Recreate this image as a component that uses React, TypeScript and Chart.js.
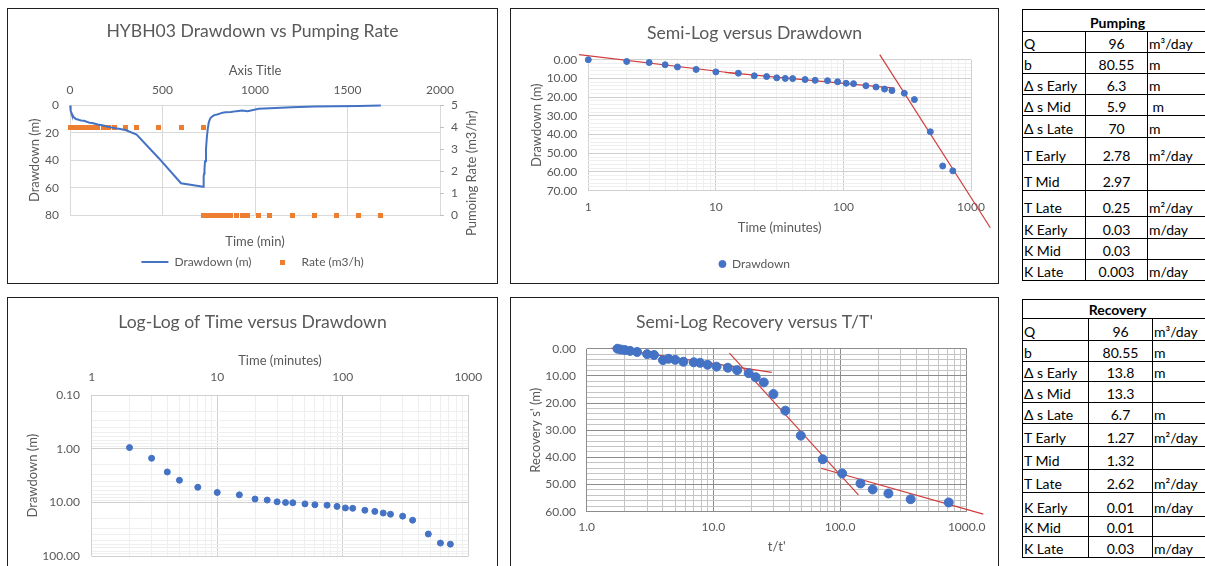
import React, { useEffect, useRef } from "react";
import { Chart, registerables } from "chart.js";

Chart.register(...registerables);

const FONT = "Lato, 'Liberation Sans', sans-serif";
const TXT = "#595959";
const BLUE = "#4472C4";
const ORANGE = "#ED7D31";
const RED = "#D23C3C";

Chart.defaults.font.family = FONT;
Chart.defaults.color = TXT;

// ---------- data ----------
const pumpTime = [1, 2, 3, 4, 5, 7, 10, 15, 20, 25, 30, 35, 40, 50, 60, 75, 90, 105, 120, 150, 180, 210, 240, 300, 360, 480, 600, 720];
const pumpDrawdown = [0, 0.95, 1.5, 2.7, 3.85, 5.2, 6.5, 7.2, 8.6, 9.0, 9.7, 10.0, 10.1, 10.6, 11.0, 11.2, 11.8, 12.6, 12.8, 13.9, 14.6, 15.7, 16.5, 17.9, 21.3, 38.5, 56.8, 59.4];
const pumpRate = 4;

const recoveryTime = [1, 2, 3, 4, 5, 7, 10, 15, 20, 25, 30, 35, 40, 50, 60, 75, 90, 105, 120, 150, 180, 210, 240, 300, 360, 480, 600, 720, 840, 960];
const recoveryRatio = [721, 361, 241, 181, 145, 103.9, 73, 49, 37, 29.8, 25, 21.6, 19, 15.4, 13, 10.6, 9, 7.86, 7, 5.8, 5, 4.43, 4, 3.4, 3, 2.5, 2.2, 2, 1.86, 1.75];
const recoveryResidual = [56.6, 55.4, 53.3, 51.8, 49.6, 45.9, 40.7, 32.0, 22.8, 16.7, 12.4, 10.5, 9.0, 7.9, 7.0, 6.6, 5.9, 5.2, 5.0, 4.8, 4.1, 3.7, 4.2, 2.3, 2.0, 1.2, 0.8, 0.5, 0.3, 0.0];
const recoveryRate = 0;

// straight-line fits drawn on the semi-log plots
const semiFitEarlyTime = [0.845, 15];
const semiFitEarlyDrawdown = [-2.7, 7.5];
const semiFitMidTime = [11.8, 252];
const semiFitMidDrawdown = [6.8, 15.2];
const semiFitLateTime = [192.6, 1417];
const semiFitLateDrawdown = [-2.7, 89.8];

const recFitEarlyRatio = [1.57, 28.9];
const recFitEarlyResidual = [-0.25, 8.7];
const recFitMidRatio = [13.4, 139.6];
const recFitMidResidual = [1.6, 53.8];
const recFitLateRatio = [70.8, 1352];
const recFitLateResidual = [44, 60.9];

// tables
const paramLabels = ["Q", "b", "Δ s Early", "Δ s Mid", "Δ s Late", "T Early", "T Mid", "T Late", "K Early", "K Mid", "K Late"];
const pumpingValues = ["96", "80.55", "6.3", "5.9", "70", "2.78", "2.97", "0.25", "0.03", "0.03", "0.003"];
const pumpingUnits = ["m³/day", "m", "m", "\u00a0m", "m", "m²/day", "", "m²/day", "m/day", "", "m/day"];
const recoveryValues = ["96", "80.55", "13.8", "13.3", "6.7", "1.27", "1.32", "2.62", "0.01", "0.01", "0.03"];
const recoveryUnits = ["m³/day", "m", "m", "", "m", "m²/day", "", "m²/day", "m/day", "", "m/day"];

// ---------- helpers ----------
const pts = (xs: number[], ys: number[]) => xs.map((x, i) => ({ x, y: ys[i] }));

const isDecade = (v: number) => Math.abs(Math.log10(v) - Math.round(Math.log10(v))) < 1e-9;

function logTickValues(lo: number, hi: number) {
  const out: number[] = [];
  for (let e = lo; e < hi; e++) for (let m = 1; m < 10; m++) out.push(+(m * Math.pow(10, e)).toPrecision(3));
  out.push(+Math.pow(10, hi).toPrecision(3));
  return out;
}

const setLogTicks = (lo: number, hi: number) => (axis: any) => {
  axis.ticks = logTickValues(lo, hi).map((v) => ({ value: v, major: isDecade(v) }));
};

const fitLine = (xs: number[], ys: number[]) => ({
  data: pts(xs, ys),
  showLine: true,
  borderColor: RED,
  backgroundColor: RED,
  borderWidth: 1.2,
  pointRadius: 0,
  pointHoverRadius: 0,
  clip: false as any,
});

function ChartPanel({ left, top, width, height, make }: any) {
  const ref = useRef<HTMLCanvasElement>(null);
  useEffect(() => {
    const chart = new Chart(ref.current as HTMLCanvasElement, make());
    return () => chart.destroy();
  }, []);
  return (
    <div
      style={{
        position: "absolute",
        left,
        top,
        width,
        height,
        boxSizing: "border-box",
        border: "1px solid #1f1f1f",
        background: "#fff",
      }}
    >
      <canvas ref={ref} width={width - 2} height={height - 2} style={{ display: "block", width: width - 2, height: height - 2 }} />
    </div>
  );
}

const TITLE_SIZE = 17.6;
const titleOpts = (text: string, padTop: number, padBottom: number) => ({
  display: true,
  text,
  font: { size: TITLE_SIZE, weight: "normal" as any, family: FONT },
  color: TXT,
  padding: { top: padTop, bottom: padBottom },
});

const axisTitle = (text: string, pad: any) => ({
  display: true,
  text,
  font: { size: 13, family: FONT },
  color: TXT,
  padding: pad,
});

const tickFont = { size: 12, family: FONT };

// ---------- chart 1 ----------
function makeChart1() {
  const sq = document.createElement("canvas");
  sq.width = 5;
  sq.height = 5;
  const c = sq.getContext("2d") as CanvasRenderingContext2D;
  c.fillStyle = ORANGE;
  c.fillRect(0, 0, 5, 5);

  const pumpEnd = pumpTime[pumpTime.length - 1];
  const lineData = [
    ...pts(pumpTime, pumpDrawdown),
    ...recoveryTime.map((t, i) => ({ x: pumpEnd + t, y: recoveryResidual[i] })),
  ];
  const rateData = [
    ...pumpTime.map((t) => ({ x: t, y: pumpRate })),
    ...recoveryTime.map((t) => ({ x: pumpEnd + t, y: recoveryRate })),
  ];

  const rightTitle = {
    id: "rightTitle",
    afterDraw(chart: any) {
      const ctx = chart.ctx;
      const s = chart.scales.y2;
      ctx.save();
      ctx.translate(s.right - 15.3, (chart.chartArea.top + chart.chartArea.bottom) / 2 + 13);
      ctx.rotate(-Math.PI / 2);
      ctx.textAlign = "center";
      ctx.textBaseline = "middle";
      ctx.font = `13px ${FONT}`;
      ctx.fillStyle = TXT;
      ctx.fillText("Pumoing Rate (m3/hr)", 0, 0);
      ctx.restore();
    },
  };

  return {
    type: "scatter",
    data: {
      datasets: [
        {
          label: "Drawdown (m)",
          data: lineData,
          showLine: true,
          borderColor: BLUE,
          backgroundColor: BLUE,
          borderWidth: 2,
          pointRadius: 0,
          pointHoverRadius: 0,
          pointStyle: "line",
          clip: false,
          xAxisID: "x",
          yAxisID: "y",
        },
        {
          label: "Rate (m3/h)",
          data: rateData,
          pointStyle: sq,
          pointRadius: 3,
          backgroundColor: ORANGE,
          borderColor: ORANGE,
          clip: false,
          xAxisID: "x",
          yAxisID: "y2",
        },
      ],
    },
    options: {
      responsive: false,
      animation: false,
      devicePixelRatio: 1,
      layout: { padding: { left: 10, right: 10, top: 0, bottom: 5 } },
      plugins: {
        title: titleOpts("HYBH03 Drawdown vs Pumping Rate", 12, 16.4),
        legend: {
          display: true,
          position: "bottom",
          labels: { usePointStyle: true, pointStyleWidth: 27, boxHeight: 5, padding: 17, font: tickFont, color: TXT },
        },
        tooltip: { enabled: false },
      },
      scales: {
        x: {
          type: "linear",
          position: "top",
          min: 0,
          max: 2000,
          ticks: { stepSize: 500, padding: 8, font: tickFont, color: TXT, maxRotation: 0, callback: (v: any) => String(v) },
          grid: { color: "#D9D9D9", drawTicks: false },
          border: { display: false },
          title: axisTitle("Axis Title", { top: 4.2, bottom: 0 }),
          afterFit: (s: any) => {
            s.height = 47;
          },
        },
        x2: {
          type: "linear",
          position: "bottom",
          min: 0,
          max: 2000,
          ticks: { display: false },
          grid: { display: false, drawTicks: false },
          border: { display: false },
          title: axisTitle("Time (min)", { top: 0, bottom: -10.8 }),
          afterFit: (s: any) => {
            s.height = 24;
          },
        },
        y: {
          type: "linear",
          position: "left",
          reverse: true,
          min: 0,
          max: 80,
          ticks: { stepSize: 20, padding: 11, font: tickFont, color: TXT, callback: (v: any) => String(v) },
          grid: { color: "#D9D9D9", drawTicks: false },
          border: { display: false },
          title: axisTitle("Drawdown (m)", { top: 9.2, bottom: 0 }),
          afterFit: (s: any) => {
            s.width = 52;
          },
        },
        y2: {
          type: "linear",
          position: "right",
          min: 0,
          max: 5,
          ticks: { stepSize: 1, padding: 7, font: tickFont, color: TXT, callback: (v: any) => String(v) },
          grid: { drawOnChartArea: false, drawTicks: true, tickLength: 4, color: "#BFBFBF" },
          border: { display: false },
          afterFit: (s: any) => {
            s.width = 47;
          },
        },
      },
    },
    plugins: [rightTitle],
  };
}

// ---------- chart 2 ----------
function makeChart2() {
  return {
    type: "scatter",
    data: {
      datasets: [
        {
          label: "Drawdown",
          data: pts(pumpTime, pumpDrawdown),
          pointStyle: "circle",
          pointRadius: 3,
          backgroundColor: BLUE,
          borderColor: BLUE,
          clip: false,
        },
        fitLine(semiFitEarlyTime, semiFitEarlyDrawdown),
        fitLine(semiFitMidTime, semiFitMidDrawdown),
        fitLine(semiFitLateTime, semiFitLateDrawdown),
      ],
    },
    options: {
      responsive: false,
      animation: false,
      devicePixelRatio: 1,
      layout: { padding: { left: 27, right: 27, top: 0, bottom: 3 } },
      plugins: {
        title: titleOpts("Semi-Log versus Drawdown", 13.4, 16.2),
        legend: {
          display: true,
          position: "bottom",
          labels: {
            usePointStyle: true,
            boxWidth: 7,
            boxHeight: 5,
            padding: 10,
            font: tickFont,
            color: TXT,
            filter: (item: any) => item.datasetIndex === 0,
          },
        },
        tooltip: { enabled: false },
      },
      scales: {
        x: {
          type: "logarithmic",
          position: "bottom",
          min: 1,
          max: 1000,
          afterBuildTicks: setLogTicks(0, 3),
          ticks: {
            autoSkip: false,
            maxRotation: 0,
            padding: 9,
            font: tickFont,
            color: TXT,
            callback: (v: any) => (isDecade(Number(v)) ? String(Number(v)) : ""),
          },
          grid: {
            drawTicks: false,
            color: (ctx: any) => (ctx.tick && isDecade(ctx.tick.value) ? "#D0D0D0" : "#EFEFEF"),
          },
          border: { display: false },
          title: axisTitle("Time (minutes)", { top: 0, bottom: 12.2 }),
          afterFit: (s: any) => {
            s.height = 57.3;
          },
        },
        y: {
          type: "linear",
          reverse: true,
          min: 0,
          max: 70,
          ticks: {
            stepSize: 2,
            autoSkip: false,
            padding: 11,
            font: tickFont,
            color: TXT,
            callback: (v: any) => (Number(v) % 10 === 0 ? Number(v).toFixed(2) : ""),
          },
          grid: {
            drawTicks: false,
            color: (ctx: any) => (ctx.tick && ctx.tick.value % 10 === 0 ? "#D0D0D0" : "#EFEFEF"),
          },
          border: { display: false },
          title: axisTitle("Drawdown (m)", { top: -8.8, bottom: 0 }),
          afterFit: (s: any) => {
            s.width = 50.3;
          },
        },
      },
    },
  };
}

// ---------- chart 3 ----------
function makeChart3() {
  const data = pts(pumpTime, pumpDrawdown).filter((p) => p.y > 0);
  return {
    type: "scatter",
    data: {
      datasets: [
        {
          label: "Drawdown",
          data,
          pointStyle: "circle",
          pointRadius: 3,
          backgroundColor: BLUE,
          borderColor: BLUE,
          clip: false,
        },
      ],
    },
    options: {
      responsive: false,
      animation: false,
      devicePixelRatio: 1,
      layout: { padding: { left: 28.7, right: 28.7, top: 0, bottom: 19.7 } },
      plugins: {
        title: titleOpts("Log-Log of Time versus Drawdown", 13.4, 15.2),
        legend: { display: false },
        tooltip: { enabled: false },
      },
      scales: {
        x: {
          type: "logarithmic",
          position: "top",
          min: 1,
          max: 1000,
          afterBuildTicks: setLogTicks(0, 3),
          ticks: {
            autoSkip: false,
            maxRotation: 0,
            padding: 11,
            font: tickFont,
            color: TXT,
            callback: (v: any) => (isDecade(Number(v)) ? String(Number(v)) : ""),
          },
          grid: {
            drawTicks: false,
            color: (ctx: any) => (ctx.tick && isDecade(ctx.tick.value) ? "#D0D0D0" : "#EFEFEF"),
          },
          border: { display: false },
          title: axisTitle("Time (minutes)", { top: 5.2, bottom: 0 }),
          afterFit: (s: any) => {
            s.height = 47.3;
          },
        },
        y: {
          type: "logarithmic",
          reverse: true,
          min: 0.1,
          max: 100,
          afterBuildTicks: setLogTicks(-1, 2),
          ticks: {
            autoSkip: false,
            padding: 11.7,
            font: tickFont,
            color: TXT,
            callback: (v: any) => (isDecade(Number(v)) ? Number(v).toFixed(2) : ""),
          },
          grid: {
            drawTicks: false,
            color: (ctx: any) => (ctx.tick && isDecade(ctx.tick.value) ? "#D0D0D0" : "#EFEFEF"),
          },
          border: { display: false },
          title: axisTitle("Drawdown (m)", { top: -11.5, bottom: 0 }),
          afterFit: (s: any) => {
            s.width = 55;
          },
        },
      },
    },
  };
}

// ---------- chart 4 ----------
function makeChart4() {
  return {
    type: "scatter",
    data: {
      datasets: [
        {
          label: "Recovery",
          data: pts(recoveryRatio, recoveryResidual),
          pointStyle: "circle",
          pointRadius: 4.5,
          backgroundColor: BLUE,
          borderColor: BLUE,
          clip: false,
        },
        fitLine(recFitEarlyRatio, recFitEarlyResidual),
        fitLine(recFitMidRatio, recFitMidResidual),
        fitLine(recFitLateRatio, recFitLateResidual),
      ],
    },
    options: {
      responsive: false,
      animation: false,
      devicePixelRatio: 1,
      layout: { padding: { left: 31.3, right: 31.3, top: 0, bottom: 10 } },
      plugins: {
        title: titleOpts("Semi-Log Recovery versus T/T'", 13.4, 16.2),
        legend: { display: false },
        tooltip: { enabled: false },
      },
      scales: {
        x: {
          type: "logarithmic",
          position: "bottom",
          min: 1,
          max: 1000,
          afterBuildTicks: setLogTicks(0, 3),
          ticks: {
            autoSkip: false,
            maxRotation: 0,
            padding: 8,
            font: tickFont,
            color: TXT,
            callback: (v: any) => (isDecade(Number(v)) ? Number(v).toFixed(1) : ""),
          },
          grid: {
            drawTicks: false,
            color: (ctx: any) => (ctx.tick && isDecade(ctx.tick.value) ? "#8C8C8C" : "#C4C4C4"),
          },
          border: { display: false },
          title: axisTitle("t/t'", { top: 0, bottom: 11.2 }),
          afterFit: (s: any) => {
            s.height = 54.3;
          },
        },
        y: {
          type: "linear",
          reverse: true,
          min: 0,
          max: 60,
          ticks: {
            stepSize: 2,
            autoSkip: false,
            padding: 10.7,
            font: tickFont,
            color: TXT,
            callback: (v: any) => (Number(v) % 10 === 0 ? Number(v).toFixed(2) : ""),
          },
          grid: {
            drawTicks: false,
            color: (ctx: any) => (ctx.tick && ctx.tick.value % 10 === 0 ? "#8C8C8C" : "#C4C4C4"),
          },
          border: { display: false },
          title: axisTitle("Recovery s' (m)", { top: -14.1, bottom: 0 }),
          afterFit: (s: any) => {
            s.width = 44.4;
          },
        },
      },
    },
  };
}

// ---------- tables ----------
function ParamTable({ left, top, title, values, units, colWidths, rowHeights }: any) {
  const cell: React.CSSProperties = {
    border: "1px solid #000",
    padding: "0 0 0 1px",
    whiteSpace: "nowrap",
    overflow: "hidden",
    verticalAlign: "bottom",
    lineHeight: "16px",
  };
  return (
    <table
      style={{
        position: "absolute",
        left,
        top,
        borderCollapse: "collapse",
        tableLayout: "fixed",
        width: colWidths.reduce((a: number, b: number) => a + b, 0),
        fontFamily: FONT,
        fontSize: 14,
        color: "#000",
        background: "#fff",
      }}
    >
      <colgroup>
        {colWidths.map((w: number, i: number) => (
          <col key={i} style={{ width: w }} />
        ))}
      </colgroup>
      <tbody>
        <tr style={{ height: rowHeights[0] }}>
          <td colSpan={3} style={{ ...cell, textAlign: "center", fontWeight: 700, paddingRight: 0 }}>
            {title}
          </td>
        </tr>
        {paramLabels.map((lab, i) => (
          <tr key={lab} style={{ height: rowHeights[i + 1] }}>
            <td style={{ ...cell, textAlign: "left" }}>{lab}</td>
            <td style={{ ...cell, textAlign: "center", paddingLeft: 0 }}>{values[i]}</td>
            <td style={{ ...cell, textAlign: "left" }}>{units[i]}</td>
          </tr>
        ))}
      </tbody>
    </table>
  );
}

export default function App() {
  return (
    <div
      style={{
        position: "fixed",
        left: 0,
        top: 0,
        width: 1205,
        height: 566,
        overflow: "hidden",
        background: "#fff",
      }}
    >
      <ChartPanel left={7} top={8} width={491} height={276} make={makeChart1} />
      <ChartPanel left={510} top={8} width={489} height={276} make={makeChart2} />
      <ChartPanel left={7} top={297} width={491} height={280} make={makeChart3} />
      <ChartPanel left={510} top={297} width={489} height={280} make={makeChart4} />
      <ParamTable
        left={1022}
        top={9}
        title="Pumping"
        values={pumpingValues}
        units={pumpingUnits}
        colWidths={[63, 62, 64]}
        rowHeights={[22, 21, 21, 21, 21, 22, 27, 26, 26, 22, 21, 21]}
      />
      <ParamTable
        left={1022}
        top={299}
        title="Recovery"
        values={recoveryValues}
        units={recoveryUnits}
        colWidths={[66, 64, 59]}
        rowHeights={[19, 22, 21, 20, 21, 21, 23, 23, 23, 24, 20, 21]}
      />
    </div>
  );
}
